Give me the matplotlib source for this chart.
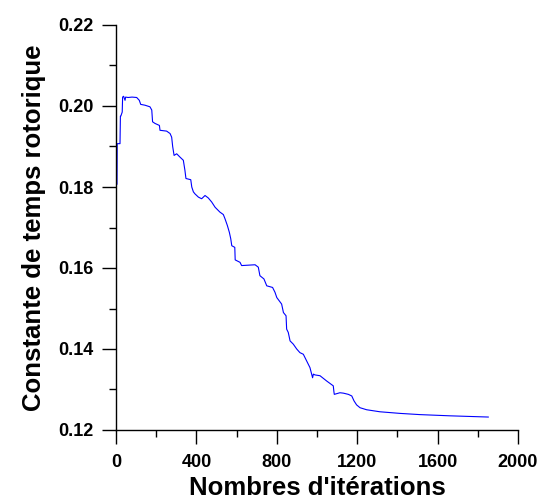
import numpy as np
import matplotlib
matplotlib.use("Agg")
import matplotlib.pyplot as plt
from matplotlib.ticker import MultipleLocator

# points (iteration, constante de temps rotorique)
iterations = [0, 1, 5, 6, 20, 22, 24, 31, 33, 38, 45, 48, 60, 80, 103, 116, 123,
              144, 169, 178, 182, 194, 216, 219, 252, 269, 277, 282, 289, 302,
              318, 335, 343, 348, 372, 377, 385, 393, 410, 426, 443, 459, 476,
              493, 517, 534, 542, 554, 564, 571, 576, 591, 593, 617, 625, 692,
              708, 716, 736, 750, 779, 791, 800, 824, 833, 846, 849, 857, 866,
              882, 899, 915, 932, 948, 965, 978, 982, 990, 1015, 1048, 1081,
              1084, 1086, 1114, 1131, 1156, 1173, 1184, 1197, 1214, 1247, 1313,
              1413, 1512, 1662, 1852]
constante = [0.1804, 0.1804, 0.1807, 0.1907, 0.1907, 0.1975, 0.1975, 0.1985,
             0.2022, 0.2024, 0.2014, 0.2022, 0.2021, 0.2022, 0.2021, 0.2014,
             0.2004, 0.2002, 0.1998, 0.1990, 0.1961, 0.1957, 0.1952, 0.1940,
             0.1938, 0.1932, 0.1923, 0.1900, 0.1878, 0.1882, 0.1874, 0.1866,
             0.1841, 0.1821, 0.1818, 0.1800, 0.1788, 0.1783, 0.1775, 0.1771,
             0.1779, 0.1773, 0.1763, 0.1750, 0.1738, 0.1732, 0.1722, 0.1705,
             0.1688, 0.1672, 0.1655, 0.1651, 0.1620, 0.1614, 0.1606, 0.1608,
             0.1602, 0.1581, 0.1573, 0.1556, 0.1552, 0.1540, 0.1527, 0.1511,
             0.1490, 0.1482, 0.1449, 0.1441, 0.1420, 0.1412, 0.1400, 0.1391,
             0.1387, 0.1371, 0.1354, 0.1329, 0.1338, 0.1336, 0.1334, 0.1321,
             0.1309, 0.1295, 0.1288, 0.1292, 0.1291, 0.1288, 0.1284, 0.1272,
             0.1262, 0.1255, 0.1250, 0.1245, 0.1241, 0.1238, 0.1235, 0.1232]

x_ticks = [0, 400, 800, 1200, 1600, 2000]
y_ticks = [0.12, 0.14, 0.16, 0.18, 0.20, 0.22]

plt.rcParams['font.family'] = ['Liberation Sans', 'DejaVu Sans']
plt.rcParams['font.weight'] = 'bold'

fig = plt.figure(figsize=(5.43, 5.0), dpi=100)
ax = fig.add_axes([0.2136, 0.14, 0.7404, 0.81])

ax.plot(iterations, constante, color='#0000ff', linewidth=0.8)

ax.set_xlim(0, 2000)
ax.set_ylim(0.12, 0.22)
ax.set_xticks(x_ticks)
ax.set_yticks(y_ticks)
ax.set_xticklabels([str(v) for v in x_ticks])
ax.set_yticklabels(['%.2f' % v for v in y_ticks])
ax.xaxis.set_minor_locator(MultipleLocator(200))
ax.yaxis.set_minor_locator(MultipleLocator(0.01))

for s in ['top', 'right']:
    ax.spines[s].set_visible(False)
for s in ['left', 'bottom']:
    ax.spines[s].set_linewidth(1.0)

ax.tick_params(which='major', direction='out', length=10, width=1.0,
               labelsize=13, pad=6)
ax.tick_params(which='minor', direction='out', length=5, width=1.0)
ax.tick_params(axis='x', which='major', pad=7)

ax.set_xlabel("Nombres d'itérations", fontsize=18.5, fontweight='bold', labelpad=4)
ax.set_ylabel("Constante de temps rotorique", fontsize=18.5, fontweight='bold',
              labelpad=9)

fig.savefig('out.png', dpi=100)
